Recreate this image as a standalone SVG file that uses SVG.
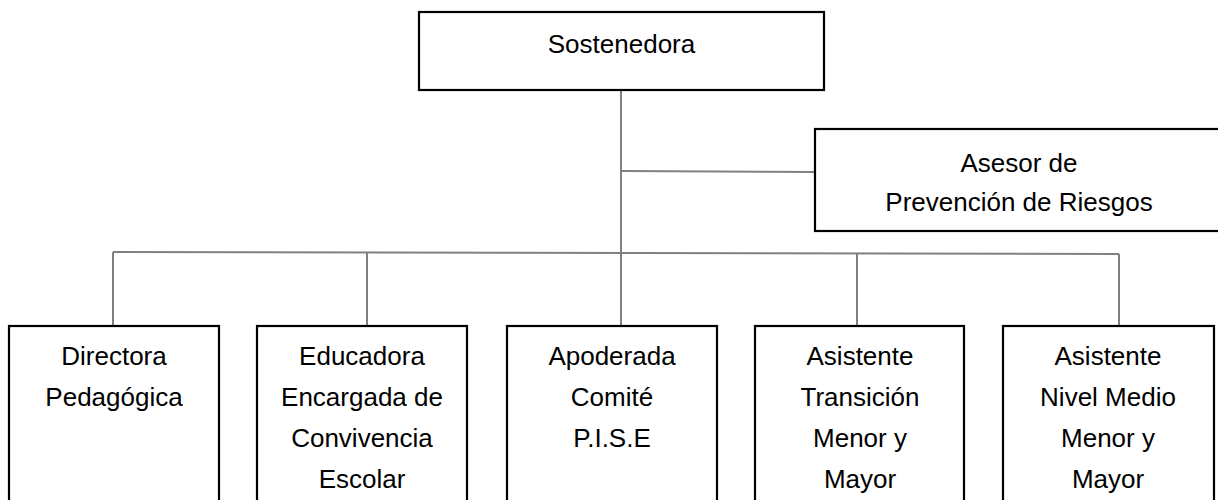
<svg xmlns="http://www.w3.org/2000/svg" width="1218" height="500" viewBox="0 0 1218 500">
<style>
.box{fill:#fff;stroke:#000;stroke-width:2.2}
.conn{stroke:#808080;stroke-width:2;fill:none}
text{font-family:"Liberation Sans",Arial,sans-serif;font-size:26px;fill:#000;text-anchor:middle}
</style>
<rect width="1218" height="500" fill="#fff"/>
<g id="connectors">
<path class="conn" d="M621 90 V326"/>
<path class="conn" d="M621 171 L815 172"/>
<path class="conn" d="M113 252 L1119 254"/>
<path class="conn" d="M113 252 V326"/>
<path class="conn" d="M367 252.5 V326"/>
<path class="conn" d="M857 253 V326"/>
<path class="conn" d="M1119 254 V326"/>
</g>
<g id="sostenedora">
<rect class="box" x="419" y="12" width="405" height="78"/>
<text x="621.5" y="53">Sostenedora</text>
</g>
<g id="asesor">
<rect class="box" x="815" y="129" width="410" height="102"/>
<text x="1019" y="172">Asesor de</text>
<text x="1019" y="211">Prevención de Riesgos</text>
</g>
<g id="directora">
<rect class="box" x="9" y="326" width="210" height="180"/>
<text x="114" y="365">Directora</text>
<text x="114" y="406">Pedagógica</text>
</g>
<g id="educadora">
<rect class="box" x="257" y="326" width="210" height="180"/>
<text x="362" y="365">Educadora</text>
<text x="362" y="406">Encargada de</text>
<text x="362" y="447">Convivencia</text>
<text x="362" y="488">Escolar</text>
</g>
<g id="apoderada">
<rect class="box" x="507" y="326" width="210" height="180"/>
<text x="612" y="365">Apoderada</text>
<text x="612" y="406">Comité</text>
<text x="612" y="447">P.I.S.E</text>
</g>
<g id="asistente-transicion">
<rect class="box" x="755" y="326" width="209" height="180"/>
<text x="860" y="365">Asistente</text>
<text x="860" y="406">Transición</text>
<text x="860" y="447">Menor y</text>
<text x="860" y="488">Mayor</text>
</g>
<g id="asistente-nivel-medio">
<rect class="box" x="1003" y="326" width="211" height="180"/>
<text x="1108" y="365">Asistente</text>
<text x="1108" y="406">Nivel Medio</text>
<text x="1108" y="447">Menor y</text>
<text x="1108" y="488">Mayor</text>
</g>
</svg>
